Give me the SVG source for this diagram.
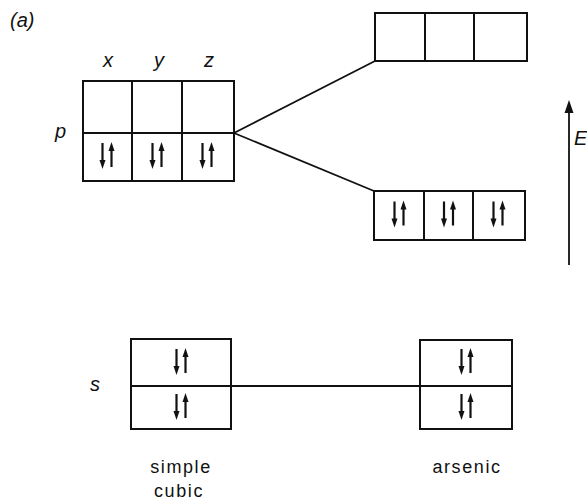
<svg xmlns="http://www.w3.org/2000/svg" xmlns:xlink="http://www.w3.org/1999/xlink" width="587" height="504" viewBox="0 0 587 504">
<style>
.box{fill:none;stroke:#111;stroke-width:2}
.ln{fill:none;stroke:#111;stroke-width:1.8}
.lab{font-family:"Liberation Sans",Arial,sans-serif;font-style:italic;font-size:20px;fill:#111}
.cap{font-family:"Liberation Sans",Arial,sans-serif;font-size:18px;letter-spacing:1.6px;fill:#111;text-anchor:middle}
.sh{stroke:#111;stroke-width:2.2}
</style>
<defs>
<g id="pair">
<line class="sh" x1="-4.5" y1="-14" x2="-4.5" y2="4"/>
<polygon points="-7.5,3 -1.5,3 -4.5,12" fill="#111"/>
<line class="sh" x1="4.5" y1="10" x2="4.5" y2="-7"/>
<polygon points="1.5,-6 7.5,-6 4.5,-15" fill="#111"/>
</g>
</defs>
<rect width="587" height="504" fill="#fff"/>
<text class="lab" x="10" y="27">(a)</text>

<g id="p-level">
<rect class="box" x="83" y="81" width="151" height="100"/>
<line class="box" x1="83" y1="133" x2="234" y2="133"/>
<line class="box" x1="132" y1="81" x2="132" y2="181"/>
<line class="box" x1="182" y1="81" x2="182" y2="181"/>
<use xlink:href="#pair" transform="translate(107,157)"/>
<use xlink:href="#pair" transform="translate(157,157)"/>
<use xlink:href="#pair" transform="translate(207,157)"/>
<text class="lab" x="103" y="67">x</text>
<text class="lab" x="154" y="67">y</text>
<text class="lab" x="204" y="67">z</text>
<text class="lab" x="55" y="138">p</text>
</g>

<g id="upper-right">
<rect class="box" x="375" y="13" width="152" height="48"/>
<line class="box" x1="425" y1="13" x2="425" y2="61"/>
<line class="box" x1="474" y1="13" x2="474" y2="61"/>
</g>

<g id="lower-right">
<rect class="box" x="374" y="191" width="151" height="49"/>
<line class="box" x1="424" y1="191" x2="424" y2="240"/>
<line class="box" x1="473" y1="191" x2="473" y2="240"/>
<use xlink:href="#pair" transform="translate(399,215.5)"/>
<use xlink:href="#pair" transform="translate(448.5,215.5)"/>
<use xlink:href="#pair" transform="translate(498,215.5)"/>
</g>

<g id="s-left">
<rect class="box" x="131" y="339" width="100" height="90"/>
<line class="box" x1="131" y1="386" x2="231" y2="386"/>
<use xlink:href="#pair" transform="translate(181,363)"/>
<use xlink:href="#pair" transform="translate(181,408)"/>
<text class="lab" x="90" y="391">s</text>
</g>

<g id="s-right">
<rect class="box" x="420" y="340" width="92" height="89"/>
<line class="box" x1="420" y1="386" x2="512" y2="386"/>
<use xlink:href="#pair" transform="translate(466,363)"/>
<use xlink:href="#pair" transform="translate(466,408)"/>
</g>

<g id="connectors">
<line class="ln" x1="234" y1="133" x2="375" y2="61"/>
<line class="ln" x1="234" y1="133" x2="374" y2="191"/>
<line class="ln" x1="231" y1="386" x2="420" y2="386"/>
<line class="ln" x1="569" y1="265" x2="569" y2="110"/>
<polygon points="569,100 573.5,113 564.5,113" fill="#111"/>
</g>
<text class="lab" x="574" y="145">E</text>

<text class="cap" x="181" y="473">simple</text>
<text class="cap" x="179" y="497">cubic</text>
<text class="cap" x="467" y="473">arsenic</text>
</svg>
